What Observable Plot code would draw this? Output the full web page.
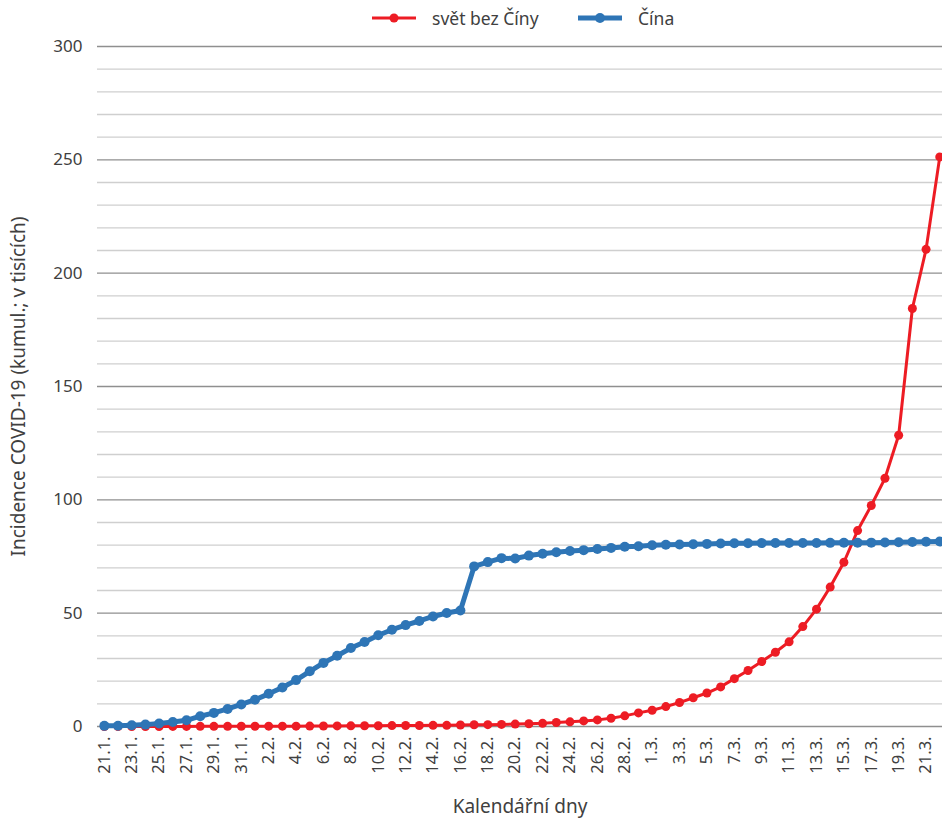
<!DOCTYPE html>
<html><head><meta charset="utf-8">
<script src="https://cdn.jsdelivr.net/npm/d3@7"></script>
<script src="https://cdn.jsdelivr.net/npm/@observablehq/plot@0.6"></script>
<style>
body{margin:0;background:#fff;font-family:"Noto Sans",sans-serif;}
#legend{height:30px;position:relative;font-size:17.5px;color:#404040;width:942px}
.item{position:absolute;top:3px;height:30px;display:flex;align-items:center}
.item span{margin-left:16px}
</style></head><body>
<div id="legend"></div><div id="chart"></div>
<script>
const dates = ["21.1.","22.1.","23.1.","24.1.","25.1.","26.1.","27.1.","28.1.","29.1.","30.1.","31.1.",
"1.2.","2.2.","3.2.","4.2.","5.2.","6.2.","7.2.","8.2.","9.2.","10.2.","11.2.","12.2.","13.2.","14.2.","15.2.","16.2.","17.2.","18.2.","19.2.","20.2.","21.2.","22.2.","23.2.","24.2.","25.2.","26.2.","27.2.","28.2.","29.2.",
"1.3.","2.3.","3.3.","4.3.","5.3.","6.3.","7.3.","8.3.","9.3.","10.3.","11.3.","12.3.","13.3.","14.3.","15.3.","16.3.","17.3.","18.3.","19.3.","20.3.","21.3.","22.3."];
const tickLabels = ["21.1.","23.1.","25.1.","27.1.","29.1.","31.1.","2.2.","4.2.","6.2.","8.2.","10.2.","12.2.","14.2.","16.2.","18.2.","20.2.","22.2.","24.2.","26.2.","28.2.","1.3.","3.3.","5.3.","7.3.","9.3.","11.3.","13.3.","15.3.","17.3.","19.3.","21.3."];
const seriesNames = ["svět bez Číny", "Čína"];
const worldExChina = [0.004,0.005,0.010,0.016,0.023,0.029,0.037,0.056,0.068,0.082,0.106,
0.132,0.146,0.153,0.159,0.191,0.216,0.270,0.288,0.307,0.319,0.395,0.441,0.447,0.505,0.526,0.683,0.794,0.804,0.924,1.073,1.200,1.402,1.769,2.069,2.459,2.918,3.664,4.691,6.009,
7.169,8.774,10.566,12.668,14.768,17.481,21.110,24.727,28.674,32.778,37.364,44.067,51.767,61.518,72.469,86.434,97.5,109.5,128.5,184.4,210.5,251.3];
const china = [0.278,0.310,0.571,0.830,1.297,1.985,2.741,4.537,5.997,7.736,9.720,
11.821,14.411,17.238,20.471,24.363,28.060,31.211,34.598,37.251,40.235,42.708,44.730,46.550,48.548,50.054,51.174,70.635,72.528,74.280,74.100,75.400,76.200,76.900,77.400,77.800,78.300,78.800,79.300,79.500,
79.968,80.174,80.304,80.422,80.565,80.711,80.813,80.859,80.904,80.924,80.955,80.981,80.991,81.021,81.048,81.077,81.116,81.174,81.300,81.416,81.498,81.601];
const yTicks = [0,50,100,150,200,250,300];
const yMinor = d3.range(0, 301, 10).filter(v => v % 50 !== 0);
const colors = ["#ED1C24", "#2E75B6"];

const red = worldExChina.map((v,i) => ({i, v}));
const blue = china.map((v,i) => ({i, v}));
const tickIdx = tickLabels.map(t => dates.indexOf(t));

// legend
const legend = document.getElementById("legend");
[[372, 0, 3, 4.5], [578, 1, 5, 5]].forEach(([left, k, sw, r]) => {
  const it = document.createElement("div");
  it.className = "item"; it.style.left = left + "px";
  it.innerHTML = `<svg width="44" height="14"><line x1="0" x2="44" y1="7" y2="7" stroke="${colors[k]}" stroke-width="${sw}"/><circle cx="22" cy="7" r="${r}" fill="${colors[k]}"/></svg><span>${seriesNames[k]}</span>`;
  legend.appendChild(it);
});

const chart = Plot.plot({
  width: 942, height: 789,
  marginTop: 16, marginBottom: 93, marginLeft: 97, marginRight: 0,
  style: {fontFamily: '"Noto Sans", sans-serif', fontSize: "16px", color: "#404040", background: "white"},
  x: {type: "linear", domain: [-0.5, 61.2]},
  y: {domain: [0, 300]},
  marks: [
    Plot.ruleY(yMinor, {stroke: "#cfcfcf", strokeWidth: 1.4}),
    Plot.ruleY(yTicks, {stroke: "#8f8f8f", strokeWidth: 1.4}),
    Plot.axisY({ticks: yTicks, tickSize: 0, tickPadding: 15, label: null, fontSize: 17}),
    Plot.axisX({ticks: tickIdx, tickFormat: i => dates[i], tickSize: 0, tickPadding: 10, tickRotate: -90, label: null, fontSize: 16.5}),
    Plot.text(["Incidence COVID-19 (kumul.; v tisících)"], {frameAnchor: "left", textAnchor: "middle", dx: -79, rotate: -90, fontSize: 19, fill: "#404040"}),
    Plot.text(["Kalendářní dny"], {frameAnchor: "bottom", textAnchor: "middle", dy: 86, fontSize: 19, fill: "#404040"}),
    Plot.line(red, {x: "i", y: "v", stroke: colors[0], strokeWidth: 3, strokeLinejoin: "round"}),
    Plot.dot(red, {x: "i", y: "v", r: 4.5, fill: colors[0]}),
    Plot.line(blue, {x: "i", y: "v", stroke: colors[1], strokeWidth: 5, strokeLinejoin: "round"}),
    Plot.dot(blue, {x: "i", y: "v", r: 5, fill: colors[1]})
  ]
});
document.getElementById("chart").appendChild(chart);
</script></body></html>
